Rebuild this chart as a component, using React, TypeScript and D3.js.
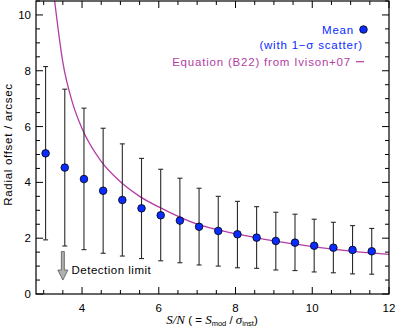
import React from "react";
import * as d3 from "d3";

const snr = [3.05, 3.55, 4.05, 4.55, 5.05, 5.55, 6.05, 6.55, 7.05, 7.55, 8.05, 8.55, 9.05, 9.55, 10.05, 10.55, 11.05, 11.55];
const meanOffset = [5.04, 4.53, 4.12, 3.7, 3.37, 3.07, 2.82, 2.63, 2.41, 2.26, 2.14, 2.02, 1.9, 1.84, 1.73, 1.66, 1.58, 1.53];
const upperOffset = [8.15, 7.34, 6.66, 5.94, 5.38, 4.86, 4.47, 4.15, 3.79, 3.5, 3.32, 3.13, 2.93, 2.86, 2.68, 2.57, 2.45, 2.35];
const lowerOffset = [1.94, 1.72, 1.59, 1.46, 1.36, 1.27, 1.19, 1.12, 1.04, 1.0, 0.94, 0.92, 0.86, 0.84, 0.79, 0.76, 0.72, 0.71];

const curveSnr = [3.28, 3.5, 3.75, 4, 4.5, 5, 5.5, 6, 7, 8, 9, 10, 11, 12];
const curveOffset = [10.57, 8.3, 6.86, 5.93, 4.75, 4.02, 3.5, 3.12, 2.5, 2.16, 1.9, 1.7, 1.54, 1.42];

const xTickLabels = [4, 6, 8, 10, 12];
const yTickLabels = [0, 2, 4, 6, 8, 10];
const detectionLimit = { snr: 3.5, top: 1.52, bottom: 0.5 };

const W = 395;
const H = 327;
const L = 36, R = 389, T = 1, B = 294;

export default function App() {
  const x = d3.scaleLinear().domain([2.8, 12]).range([L, R]);
  const y = d3.scaleLinear().domain([0, 10.5]).range([B, T]);

  const xMinor = d3.range(3, 12.01, 0.5);
  const yMinor = d3.range(0, 10.51, 0.5);

  const line = d3
    .line<number>()
    .x((_, i) => x(curveSnr[i]))
    .y((d) => y(d))
    .curve(d3.curveMonotoneX);

  const sans = "'Liberation Sans', Arial, sans-serif";
  const serif = "'Liberation Serif', 'Times New Roman', serif";
  const purple = "#b43ca5";
  const blue = "#0a2cff";

  const ax = x(detectionLimit.snr);
  const aTop = y(detectionLimit.top);
  const aBot = y(detectionLimit.bottom);
  const headH = 10;

  return (
    <svg width={W} height={H} style={{ position: "absolute", left: 0, top: 0, background: "#fff" }}>
      <defs>
        <clipPath id="plot">
          <rect x={L} y={T} width={R - L} height={B - T} />
        </clipPath>
      </defs>

      {/* ticks */}
      <g stroke="#000" strokeWidth={1}>
        {xMinor.map((v) => {
          const major = Math.abs(v % 2) < 1e-6;
          const len = major ? 7 : 4;
          return (
            <g key={"xt" + v}>
              <line x1={x(v)} x2={x(v)} y1={B} y2={B - len} />
              <line x1={x(v)} x2={x(v)} y1={T} y2={T + len} />
            </g>
          );
        })}
        {yMinor.map((v) => {
          const major = Math.abs(v % 2) < 1e-6;
          const len = major ? 7 : 4;
          return (
            <g key={"yt" + v}>
              <line x1={L} x2={L + len} y1={y(v)} y2={y(v)} />
              <line x1={R} x2={R - len} y1={y(v)} y2={y(v)} />
            </g>
          );
        })}
      </g>

      {/* curve */}
      <g clipPath="url(#plot)">
        <path d={line(curveOffset) || ""} fill="none" stroke={purple} strokeWidth={1.3} />
      </g>

      {/* error bars */}
      <g stroke="#2a2a2a" strokeWidth={1.1}>
        {snr.map((s, i) => (
          <g key={"eb" + i}>
            <line x1={x(s)} x2={x(s)} y1={y(upperOffset[i])} y2={y(lowerOffset[i])} />
            <line x1={x(s) - 2.5} x2={x(s) + 2.5} y1={y(upperOffset[i])} y2={y(upperOffset[i])} />
            <line x1={x(s) - 2.5} x2={x(s) + 2.5} y1={y(lowerOffset[i])} y2={y(lowerOffset[i])} />
          </g>
        ))}
      </g>

      {/* means */}
      {snr.map((s, i) => (
        <circle key={"m" + i} cx={x(s)} cy={y(meanOffset[i])} r={3.8} fill={blue} stroke="#000" strokeWidth={0.8} />
      ))}

      {/* detection limit arrow */}
      <path
        d={`M${ax - 1.5},${aTop} L${ax + 1.5},${aTop} L${ax + 1.5},${aBot - headH} L${ax + 5},${aBot - headH} L${ax},${aBot} L${ax - 5},${aBot - headH} L${ax - 1.5},${aBot - headH} Z`}
        fill="#b0b0b0"
        stroke="#555"
        strokeWidth={0.8}
      />
      <text x={71.5} y={274} fontFamily={sans} fontSize={11.5} fill="#000" letterSpacing={0.5}>
        Detection limit
      </text>

      {/* frame */}
      <rect x={L} y={T} width={R - L} height={B - T} fill="none" stroke="#000" strokeWidth={1.2} />

      {/* tick labels */}
      <g fontFamily={sans} fontSize={11.5} fill="#000">
        {xTickLabels.map((v) => (
          <text key={"xl" + v} x={x(v)} y={311.5} textAnchor="middle">
            {v}
          </text>
        ))}
        {yTickLabels.map((v) => (
          <text key={"yl" + v} x={31} y={y(v) + 4} textAnchor="end">
            {v}
          </text>
        ))}
      </g>

      {/* axis titles */}
      <text
        transform={`translate(12,${(T + B) / 2 - 3}) rotate(-90)`}
        textAnchor="middle"
        fontFamily={sans}
        fontSize={11.5}
        letterSpacing={0.7}
      >
        Radial offset / arcsec
      </text>
      <text x={212} y={324} textAnchor="middle" fontFamily={sans} fontSize={11.5}>
        <tspan fontFamily={serif} fontStyle="italic" fontSize={13}>S/N</tspan>
        <tspan> ( = </tspan>
        <tspan fontFamily={serif} fontStyle="italic" fontSize={13}>S</tspan>
        <tspan fontSize={7.5} dy={2}>mod</tspan>
        <tspan dy={-2}> / </tspan>
        <tspan fontFamily={serif} fontStyle="italic" fontSize={13}>σ</tspan>
        <tspan fontSize={7.5} dy={2}>inst</tspan>
        <tspan dy={-2}>)</tspan>
      </text>

      {/* legend */}
      <g fontFamily={sans} fontSize={11.5} letterSpacing={0.8}>
        <text x={354} y={33.5} textAnchor="end" fill={blue}>Mean</text>
        <circle cx={363.5} cy={29.5} r={3.8} fill={blue} stroke="#000" strokeWidth={0.8} />
        <text x={363} y={48.5} textAnchor="end" fill={blue}>(with 1−σ scatter)</text>
        <text x={351} y={65.5} textAnchor="end" fill={purple}>Equation (B22) from Ivison+07</text>
        <line x1={356} x2={364} y1={61.7} y2={61.7} stroke={purple} strokeWidth={1.2} />
      </g>
    </svg>
  );
}
